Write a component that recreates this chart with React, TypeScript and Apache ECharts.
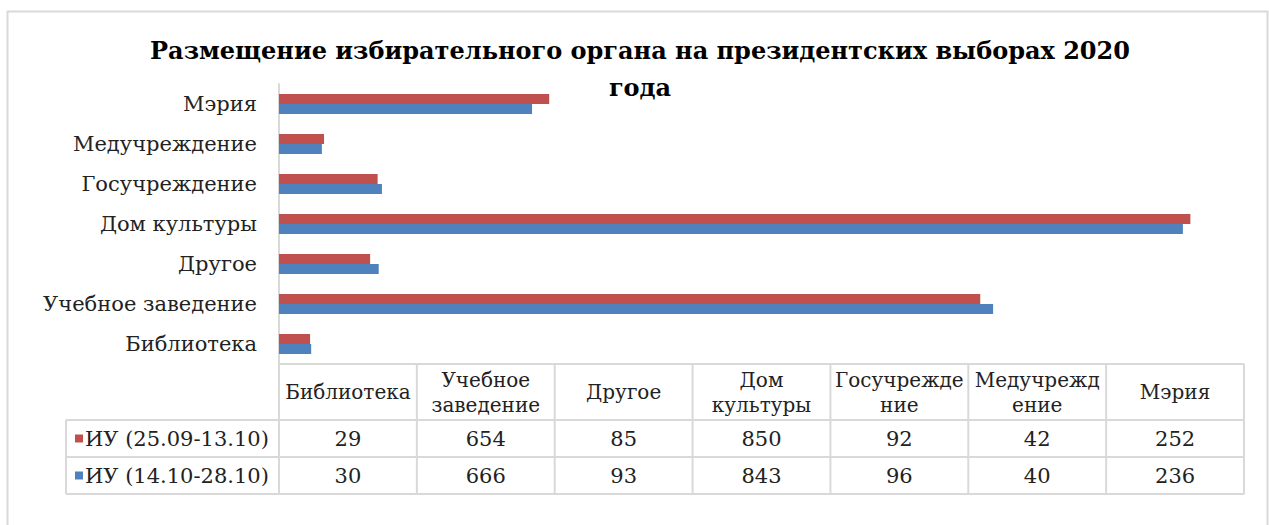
import React, { useEffect, useRef } from "react";
import * as echarts from "echarts";

const categories = ["Библиотека", "Учебное заведение", "Другое", "Дом культуры", "Госучреждение", "Медучреждение", "Мэрия"];
const headerLabels = ["Библиотека", "Учебное\nзаведение", "Другое", "Дом\nкультуры", "Госучрежде\nние", "Медучрежд\nение", "Мэрия"];
const seriesNames = ["ИУ (25.09-13.10)", "ИУ (14.10-28.10)"];
const valuesA = [29, 654, 85, 850, 92, 42, 252];
const valuesB = [30, 666, 93, 843, 96, 40, 236];
const titleText = "Размещение избирательного органа на президентских выборах 2020\nгода";

const RED = "#C0504D";
const BLUE = "#4F81BD";
const LINE = "#D9D9D9";
const FONT = "'DejaVu Serif', serif";
const FS = 21;
const FSH = 20;

const W = 1269;
const H = 525;
const GL = 279;
const GR = 1244;
const GT = 84;
const GB = 364;

export default function App() {
  const ref = useRef<HTMLDivElement>(null);
  useEffect(() => {
    const chart = echarts.init(ref.current!, null, { renderer: "svg" });
    const n = categories.length;
    const colW = (GR - GL) / n;
    const rowY = [GB, 420, 457, 494];
    const legendL = 66;
    const g: any[] = [];
    g.push({ type: "rect", shape: { x: 7.5, y: 11.5, width: 1260, height: 530 }, style: { fill: "none", stroke: LINE, lineWidth: 2 }, silent: true });
    g.push({ type: "line", shape: { x1: GL, y1: rowY[0], x2: GR, y2: rowY[0] }, style: { stroke: LINE, lineWidth: 2 } });
    for (let i = 1; i < rowY.length; i++) {
      g.push({ type: "line", shape: { x1: legendL, y1: rowY[i], x2: GR, y2: rowY[i] }, style: { stroke: LINE, lineWidth: 2 } });
    }
    g.push({ type: "line", shape: { x1: legendL, y1: rowY[1], x2: legendL, y2: rowY[3] }, style: { stroke: LINE, lineWidth: 2 } });
    for (let i = 0; i <= n; i++) {
      const x = GL + i * colW;
      g.push({ type: "line", shape: { x1: x, y1: rowY[0], x2: x, y2: rowY[3] }, style: { stroke: LINE, lineWidth: 2 } });
    }
    headerLabels.forEach((lab, i) => {
      g.push({
        type: "text",
        x: GL + (i + 0.5) * colW,
        y: (rowY[0] + rowY[1]) / 2,
        style: { text: lab, fill: "#222", font: `${FSH}px ${FONT}`, align: "center", verticalAlign: "middle", lineHeight: 25 },
      });
    });
    const rows = [valuesA, valuesB];
    const colors = [RED, BLUE];
    rows.forEach((vals, r) => {
      const cy = (rowY[r + 1] + rowY[r + 2]) / 2;
      g.push({ type: "rect", shape: { x: 75, y: cy - 4, width: 8, height: 8 }, style: { fill: colors[r] } });
      g.push({
        type: "text",
        x: 85,
        y: cy,
        style: { text: seriesNames[r], fill: "#222", font: `${FS}px ${FONT}`, align: "left", verticalAlign: "middle" },
      });
      vals.forEach((v, i) => {
        g.push({
          type: "text",
          x: GL + (i + 0.5) * colW,
          y: cy,
          style: { text: String(v), fill: "#222", font: `${FS}px ${FONT}`, align: "center", verticalAlign: "middle" },
        });
      });
    });

    chart.setOption({
      animation: false,
      backgroundColor: "#fff",
      title: {
        text: titleText,
        left: 635,
        top: 27,
        textAlign: "center",
        textStyle: { fontFamily: FONT, fontWeight: "bold", fontSize: 24, color: "#000", lineHeight: 37 },
      },
      grid: { left: GL, right: W - GR, top: GT, bottom: H - GB, containLabel: false },
      xAxis: { type: "value", min: 0, max: 900, show: false, splitLine: { show: false } },
      yAxis: {
        type: "category",
        data: categories,
        axisLine: { lineStyle: { color: LINE, width: 2 } },
        axisTick: { show: false },
        axisLabel: { color: "#222", fontFamily: FONT, fontSize: FS, margin: 22 },
      },
      series: [
        { name: seriesNames[0], type: "bar", data: valuesA, itemStyle: { color: RED }, barWidth: 10, barGap: "0%" },
        { name: seriesNames[1], type: "bar", data: valuesB, itemStyle: { color: BLUE }, barWidth: 10, barGap: "0%" },
      ],
      graphic: g,
    });
    return () => chart.dispose();
  }, []);
  return <div ref={ref} style={{ position: "fixed", left: 0, top: 0, width: W, height: H }} />;
}
